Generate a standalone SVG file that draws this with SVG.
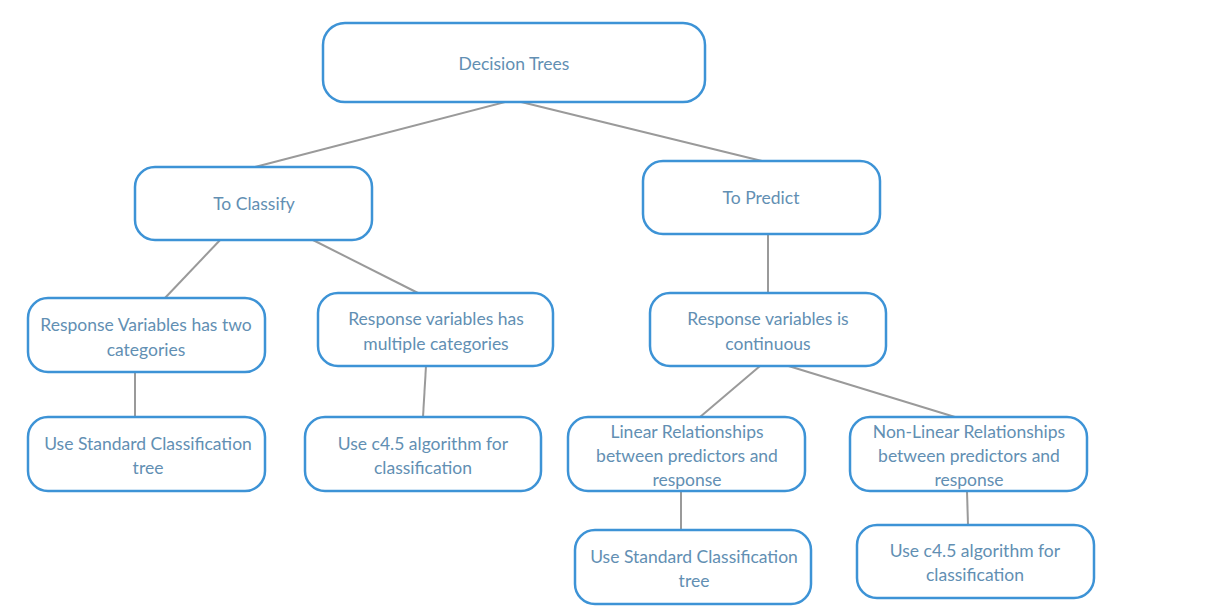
<svg xmlns="http://www.w3.org/2000/svg" width="1230" height="610" viewBox="0 0 1230 610">
<style>
.n rect{fill:#fff;stroke:#3d93d6;stroke-width:2.5}
.n text{font-family:Lato,"Open Sans","Liberation Sans",sans-serif;font-size:17.5px;fill:#628fb3;text-anchor:middle}
#edges line{stroke:#9a9a9a;stroke-width:2}
</style>
<rect width="1230" height="610" fill="#fff"/>
<g id="edges">
<line x1="513" y1="100" x2="255" y2="167"/>
<line x1="513" y1="100" x2="762" y2="161"/>
<line x1="222" y1="238" x2="165" y2="298"/>
<line x1="303" y1="235" x2="418" y2="293"/>
<line x1="768" y1="234" x2="768" y2="293"/>
<line x1="135" y1="372" x2="135" y2="417"/>
<line x1="426" y1="366" x2="423" y2="417"/>
<line x1="760" y1="366" x2="700" y2="417"/>
<line x1="782" y1="364" x2="955" y2="417"/>
<line x1="681" y1="491" x2="681" y2="530"/>
<line x1="967" y1="491" x2="968" y2="525"/>
</g>
<g id="n_decision" class="n"><rect x="323" y="23" width="382" height="79" rx="22"/><text x="514" y="70">Decision Trees</text></g>
<g id="n_classify" class="n"><rect x="135" y="167" width="237" height="73" rx="20"/><text x="254" y="210">To Classify</text></g>
<g id="n_predict" class="n"><rect x="643" y="161" width="237" height="73" rx="20"/><text x="761" y="204">To Predict</text></g>
<g id="n_two" class="n"><rect x="28" y="298" width="237" height="74" rx="20"/><text x="146" y="331">Response Variables has two</text><text x="146" y="356">categories</text></g>
<g id="n_multi" class="n"><rect x="318" y="293" width="235" height="73" rx="20"/><text x="436" y="325">Response variables has</text><text x="436" y="350">multiple categories</text></g>
<g id="n_cont" class="n"><rect x="650" y="293" width="236" height="73" rx="20"/><text x="768" y="325">Response variables is</text><text x="768" y="350">continuous</text></g>
<g id="n_std1" class="n"><rect x="28" y="417" width="237" height="74" rx="20"/><text x="148" y="450">Use Standard Classification</text><text x="148" y="474">tree</text></g>
<g id="n_c45a" class="n"><rect x="305" y="417" width="236" height="74" rx="20"/><text x="423" y="450">Use c4.5 algorithm for</text><text x="423" y="474">classification</text></g>
<g id="n_lin" class="n"><rect x="568" y="417" width="237" height="74" rx="20"/><text x="687" y="438">Linear Relationships</text><text x="687" y="462">between predictors and</text><text x="687" y="486">response</text></g>
<g id="n_nonlin" class="n"><rect x="850" y="417" width="237" height="74" rx="20"/><text x="969" y="438">Non-Linear Relationships</text><text x="969" y="462">between predictors and</text><text x="969" y="486">response</text></g>
<g id="n_std2" class="n"><rect x="575" y="530" width="236" height="74" rx="20"/><text x="694" y="563">Use Standard Classification</text><text x="694" y="587">tree</text></g>
<g id="n_c45b" class="n"><rect x="857" y="525" width="237" height="73" rx="20"/><text x="975" y="557">Use c4.5 algorithm for</text><text x="975" y="581">classification</text></g>
</svg>
